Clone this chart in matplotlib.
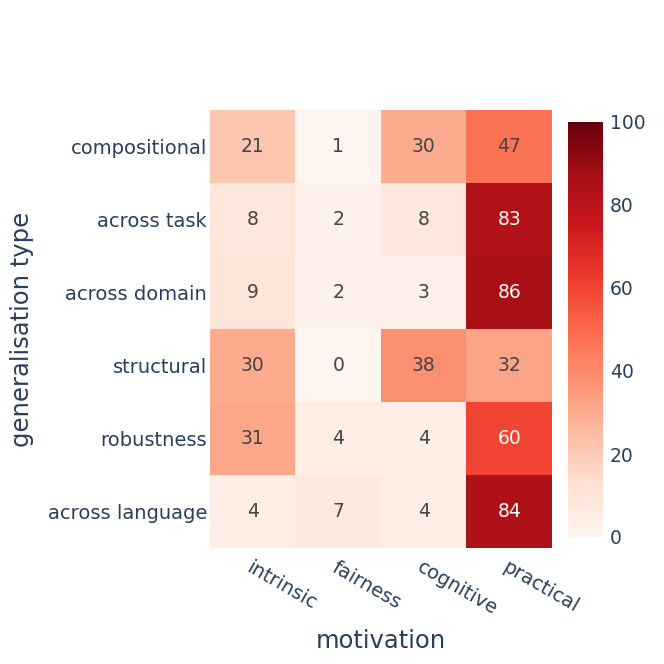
import numpy as np
import matplotlib
matplotlib.use("Agg")
import matplotlib.pyplot as plt

# categories
motivation = ["intrinsic", "fairness", "cognitive", "practical"]
gen_type = ["compositional", "across task", "across domain", "structural",
            "robustness", "across language"]

# values (rows = generalisation type, cols = motivation)
vals = np.array([
    [21, 1, 30, 47],
    [8, 2, 8, 83],
    [9, 2, 3, 86],
    [30, 0, 38, 32],
    [31, 4, 4, 60],
    [4, 7, 4, 84],
])

txt_col = "#2a3f5f"
W, H = 664, 664
fig = plt.figure(figsize=(W / 100, H / 100), dpi=100)

# heatmap axes (pixel box from the reference)
ax = fig.add_axes([210 / W, 1 - 548 / H, (552 - 210) / W, (548 - 110) / H])
im = ax.imshow(vals, cmap="Reds", vmin=0, vmax=100, aspect="auto",
               interpolation="nearest")

for i in range(vals.shape[0]):
    for j in range(vals.shape[1]):
        v = vals[i, j]
        c = "white" if v >= 55 else "#444444"
        ax.text(j, i, str(v), ha="center", va="center", fontsize=13.5, color=c)

ax.set_xticks(range(len(motivation)))
ax.set_xticklabels(motivation, rotation=-30, ha="left", va="top",
                   rotation_mode="anchor", fontsize=14, color=txt_col)
ax.set_yticks(range(len(gen_type)))
ax.set_yticklabels(gen_type, fontsize=14, color=txt_col)
ax.tick_params(length=0, pad=2)
ax.tick_params(axis="x", pad=7)
for s in ax.spines.values():
    s.set_visible(False)

ax.set_xlabel("motivation", fontsize=17.5, color=txt_col, labelpad=7)
ax.set_ylabel("generalisation type", fontsize=17.5, color=txt_col, labelpad=10)

# colorbar
cax = fig.add_axes([568 / W, 1 - 537 / H, (603 - 568) / W, (537 - 122) / H])
cb = fig.colorbar(im, cax=cax)
cb.set_ticks([0, 20, 40, 60, 80, 100])
cb.outline.set_visible(False)
cax.tick_params(length=0, pad=5, labelsize=13.5, labelcolor=txt_col)

fig.savefig("out.png", dpi=100)
